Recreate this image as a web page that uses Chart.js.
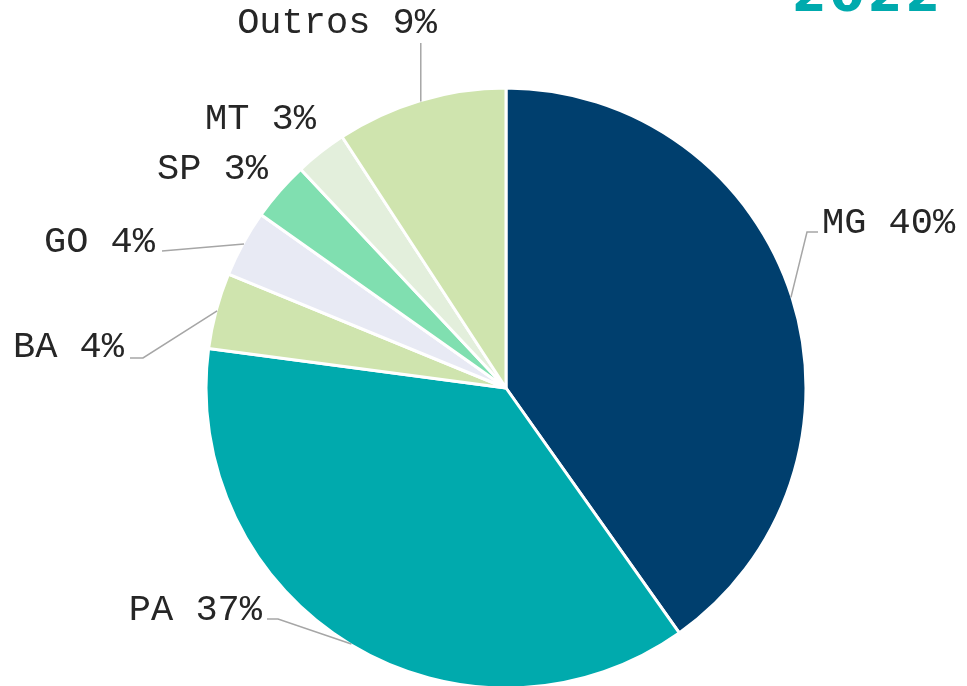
<!DOCTYPE html>
<html>
<head>
<meta charset="utf-8">
<script src="https://cdn.jsdelivr.net/npm/chart.js@4/dist/chart.umd.min.js"></script>
<style>
  html, body { margin: 0; padding: 0; background: #ffffff; }
  #wrap { width: 967px; height: 686px; position: relative; }
</style>
</head>
<body>
<div id="wrap"><canvas id="c" width="967" height="686"></canvas></div>
<script>
// ---- data ----
const categories = ["MG", "PA", "BA", "GO", "SP", "MT", "Outros"];
const shares = [40.2, 36.9, 4.1, 3.6, 3.2, 2.8, 9.2];
const sliceColors = ["#003f6e", "#00aaad", "#cfe4ae", "#e8eaf4", "#80dfb0", "#e3efdc", "#cfe4ae"];
const titleText = "2022";

// ---- label layout (offsets from pie centre) ----
const labelLayout = [
  { tx: 316,  ty: -155, align: "left",  line: [[301, -156], [312, -156]] },
  { tx: -244, ty: 232,  align: "right", line: [[-228, 231], [-239, 231]] },
  { tx: -382, ty: -31,  align: "right", line: [[-363, -30], [-376, -30]] },
  { tx: -351, ty: -136, align: "right", line: [[-344, -137]] },
  { tx: -238, ty: -209, align: "right", line: null },
  { tx: -190, ty: -259, align: "right", line: null },
  { tx: -69,  ty: -355, align: "right", line: "up", upTo: -345 }
];

const labelPlugin = {
  id: "pieLabels",
  afterDatasetsDraw(chart) {
    const ctx = chart.ctx;
    const meta = chart.getDatasetMeta(0);
    const ds = chart.data.datasets[0];
    ctx.save();
    meta.data.forEach((arc, i) => {
      const p = arc.getProps(["x", "y", "startAngle", "endAngle", "outerRadius"], true);
      const cx = p.x, cy = p.y;
      const mid = (p.startAngle + p.endAngle) / 2;
      const r = p.outerRadius - 1;
      const sx = cx + Math.cos(mid) * r;
      const sy = cy + Math.sin(mid) * r;
      const L = labelLayout[i];
      if (L.line) {
        ctx.beginPath();
        ctx.strokeStyle = "#a6a6a6";
        ctx.lineWidth = 1.5;
        ctx.moveTo(sx, sy);
        if (L.line === "up") {
          ctx.lineTo(sx, cy + L.upTo);
        } else {
          L.line.forEach(pt => ctx.lineTo(cx + pt[0], cy + pt[1]));
        }
        ctx.stroke();
      }
      ctx.fillStyle = "#262626";
      ctx.font = '37px "Liberation Mono", "Courier New", monospace';
      ctx.textAlign = L.align;
      ctx.textBaseline = "alphabetic";
      const txt = chart.data.labels[i] + " " + Math.round(ds.data[i]) + "%";
      ctx.fillText(txt, cx + L.tx, cy + L.ty);
    });
    // title
    ctx.fillStyle = "#00aaad";
    ctx.font = 'bold 50px "DejaVu Sans", sans-serif';
    ctx.textAlign = "right";
    ctx.textBaseline = "alphabetic";
    try { ctx.letterSpacing = "3px"; } catch (e) {}
    ctx.fillText(titleText, 943, 11);
    ctx.restore();
  }
};

new Chart(document.getElementById("c"), {
  type: "pie",
  data: {
    labels: categories,
    datasets: [{
      data: shares,
      backgroundColor: sliceColors,
      borderColor: "#ffffff",
      borderWidth: 3,
      hoverOffset: 0
    }]
  },
  options: {
    responsive: false,
    devicePixelRatio: 1,
    animation: false,
    radius: 300,
    layout: { padding: { left: 145, right: 100, top: 100, bottom: 10 } },
    plugins: {
      legend: { display: false },
      tooltip: { enabled: false },
      title: { display: false }
    }
  },
  plugins: [labelPlugin]
});
</script>
</body>
</html>
